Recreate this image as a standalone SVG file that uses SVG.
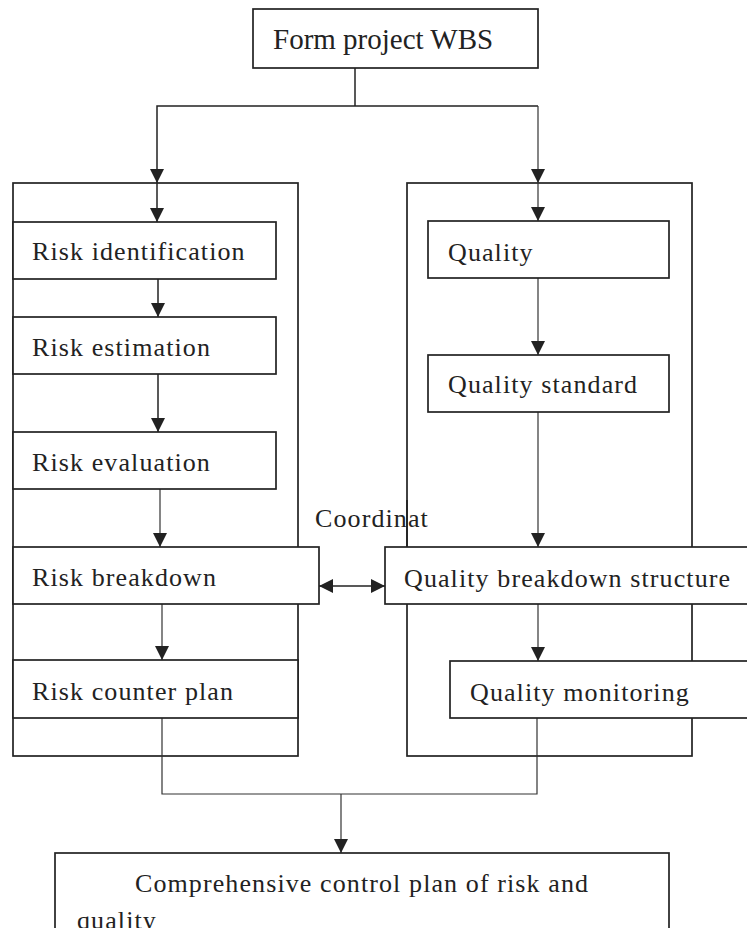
<svg xmlns="http://www.w3.org/2000/svg" width="747" height="928" viewBox="0 0 747 928">
  <style>
    .box { fill: #ffffff; stroke: #222222; stroke-width: 1.7; }
    .frame { fill: none; stroke: #222222; stroke-width: 1.7; }
    .line { fill: none; stroke: #222222; stroke-width: 1.5; }
    .thin { fill: none; stroke: #333333; stroke-width: 1.2; }
    .lbl { font-family: "Liberation Serif", "Times New Roman", serif; font-size: 26px; letter-spacing: 1.1px; fill: #222222; }
    .title { font-family: "Liberation Serif", "Times New Roman", serif; font-size: 29px; fill: #222222; }
  </style>
  <defs>
    <marker id="arrow" markerUnits="userSpaceOnUse" markerWidth="14" markerHeight="14" refX="14" refY="7" orient="auto-start-reverse" viewBox="0 0 14 14">
      <path d="M0,0 L14,7 L0,14 z" fill="#222222"/>
    </marker>
  </defs>

  <rect width="747" height="928" fill="#ffffff"/>

  <!-- enclosing frames of the two columns -->
  <g id="risk-frame">
    <rect class="frame" x="13" y="183" width="285" height="573"/>
  </g>
  <g id="quality-frame">
    <rect class="frame" x="407" y="183" width="285" height="573"/>
  </g>

  <!-- label between the two breakdown boxes (partly crossed by the frame edge) -->
  <g id="coordinate-label">
    <text class="lbl" x="315" y="527">Coordinat</text>
    <line class="frame" x1="407" y1="500" x2="407" y2="547"/>
  </g>

  <!-- connectors -->
  <g id="connectors">
    <polyline class="line" points="355,68 355,106"/>
    <polyline class="line" points="538,106 157,106 157,183" marker-end="url(#arrow)"/>
    <polyline class="thin" points="538,106 538,183" marker-end="url(#arrow)"/>
    <line class="line" x1="157" y1="183" x2="157" y2="222" marker-end="url(#arrow)"/>
    <line class="thin" x1="538" y1="183" x2="538" y2="221" marker-end="url(#arrow)"/>
    <line class="line" x1="158" y1="279" x2="158" y2="317" marker-end="url(#arrow)"/>
    <line class="line" x1="158" y1="374" x2="158" y2="432" marker-end="url(#arrow)"/>
    <line class="thin" x1="160" y1="489" x2="160" y2="547" marker-end="url(#arrow)"/>
    <line class="thin" x1="162" y1="604" x2="162" y2="660" marker-end="url(#arrow)"/>
    <line class="thin" x1="538" y1="278" x2="538" y2="355" marker-end="url(#arrow)"/>
    <line class="thin" x1="538" y1="412" x2="538" y2="547" marker-end="url(#arrow)"/>
    <line class="thin" x1="538" y1="604" x2="538" y2="661" marker-end="url(#arrow)"/>
    <line class="line" x1="319" y1="586" x2="385" y2="586" marker-start="url(#arrow)" marker-end="url(#arrow)"/>
    <polyline class="thin" points="162,718 162,794 537,794 537,718"/>
    <line class="thin" x1="341" y1="794" x2="341" y2="853" marker-end="url(#arrow)"/>
  </g>

  <g id="form-wbs">
    <rect class="box" x="253" y="9" width="285" height="59"/>
    <text class="title" x="273" y="49">Form project WBS</text>
  </g>

  <g id="risk-identification">
    <rect class="box" x="13" y="222" width="263" height="57"/>
    <text class="lbl" x="32" y="260">Risk identification</text>
  </g>
  <g id="risk-estimation">
    <rect class="box" x="13" y="317" width="263" height="57"/>
    <text class="lbl" x="32" y="356">Risk estimation</text>
  </g>
  <g id="risk-evaluation">
    <rect class="box" x="13" y="432" width="263" height="57"/>
    <text class="lbl" x="32" y="471">Risk evaluation</text>
  </g>
  <g id="risk-breakdown">
    <rect class="box" x="13" y="547" width="306" height="57"/>
    <text class="lbl" x="32" y="586">Risk breakdown</text>
  </g>
  <g id="risk-counter-plan">
    <rect class="box" x="13" y="660" width="285" height="58"/>
    <text class="lbl" x="32" y="700">Risk counter plan</text>
  </g>

  <g id="quality">
    <rect class="box" x="428" y="221" width="241" height="57"/>
    <text class="lbl" x="448" y="261">Quality</text>
  </g>
  <g id="quality-standard">
    <rect class="box" x="428" y="355" width="241" height="57"/>
    <text class="lbl" x="448" y="393">Quality standard</text>
  </g>
  <g id="quality-breakdown-structure">
    <rect class="box" x="385" y="547" width="380" height="57"/>
    <text class="lbl" x="404" y="587">Quality breakdown structure</text>
  </g>
  <g id="quality-monitoring">
    <rect class="box" x="450" y="661" width="315" height="57"/>
    <text class="lbl" x="470" y="701">Quality monitoring</text>
  </g>

  <g id="comprehensive-plan">
    <rect class="box" x="55" y="853" width="614" height="90"/>
    <text class="lbl" x="135" y="892">Comprehensive control plan of risk and</text>
    <text class="lbl" x="77" y="929">quality</text>
  </g>
</svg>
